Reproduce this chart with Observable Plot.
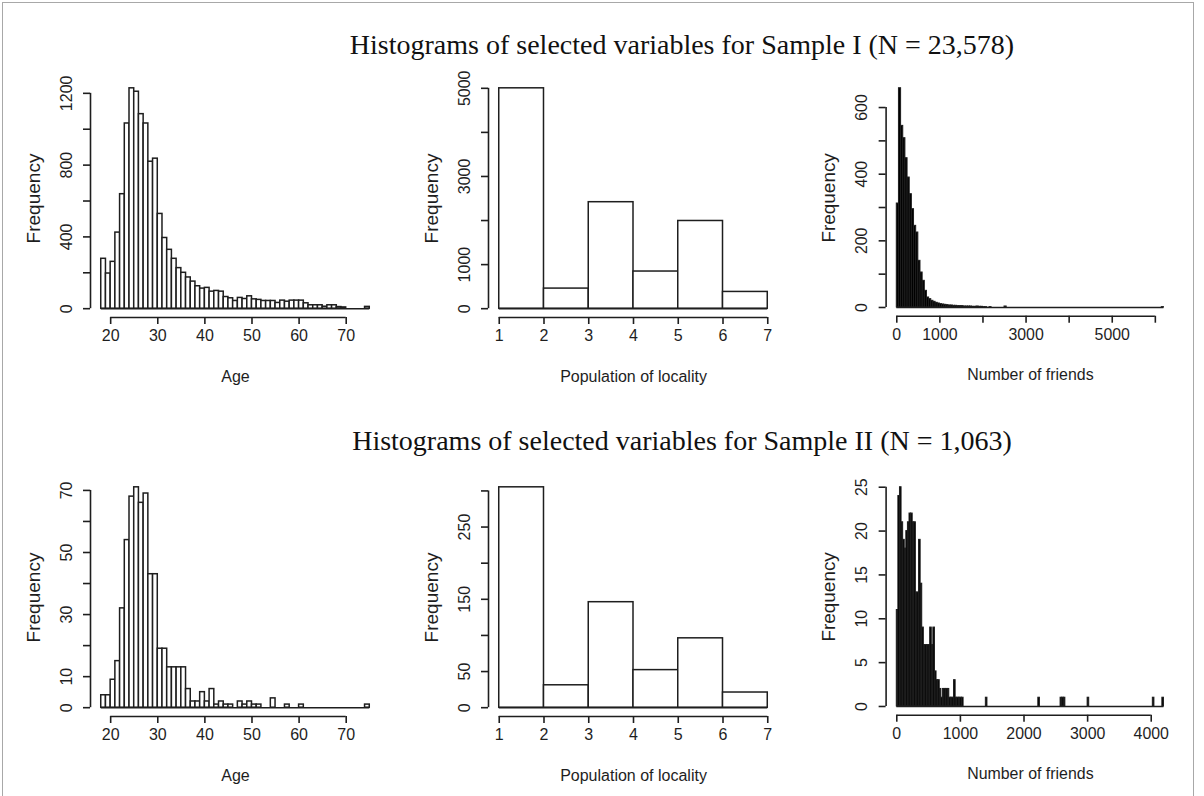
<!DOCTYPE html>
<html>
<head>
<meta charset="utf-8">
<script src="https://cdn.jsdelivr.net/npm/d3@7"></script>
<script src="https://cdn.jsdelivr.net/npm/@observablehq/plot@0.6"></script>
<style>
  body { margin: 0; background: #fff; }
  #page { position: relative; width: 1204px; height: 796px; overflow: hidden; background: #fff;
          font-family: "Liberation Sans", Arial, sans-serif; }
  .border { position: absolute; left: 2px; top: 2px; width: 1190px; height: 830px; border: 1px solid #a8a8a8; }
  .title { position: absolute; left: 282px; width: 800px; text-align: center;
           font-family: "Liberation Serif", "Times New Roman", serif; font-size: 28px; color: #111; line-height: 30px; }
  .panel { position: absolute; }
  .panel svg { overflow: visible; }
</style>
</head>
<body>
<div id="page">
  <div class="border"></div>
  <div class="title" id="t1" style="top:30px"></div>
  <div class="title" id="t2" style="top:426px"></div>
</div>
<script>
// ---------------- data ----------------
const titles = [
  "Histograms of selected variables for Sample I (N = 23,578)",
  "Histograms of selected variables for Sample II (N = 1,063)"
];
const yTitle = "Frequency";
const xTitles = ["Age", "Population of locality", "Number of friends"];

// Age: one-year bins starting at 18 (18–19, 19–20, ..., 74–75)
const ageStart = 18;
const ageBinWidth = 1;
const ageCountsI = [278,196,261,424,638,1032,1228,1209,1084,1032,819,836,528,394,328,278,226,200,174,151,
  125,112,116,95,99,95,65,58,43,60,54,69,52,49,43,43,43,32,45,39,45,45,45,30,19,19,19,11,19,19,9,7,0,0,0,0,10];
const ageCountsII = [4,4,9,15,32,54,68,71,66,69,43,43,19,19,13,13,13,13,6,2,2,5,2,6,1,2,1,1,0,2,1,2,1,1,0,0,3,0,0,1,
  0,0,1,0,0,0,0,0,0,0,0,0,0,0,0,0,1];

// Population of locality: bins 1–2, ..., 6–7
const popStart = 1;
const popBinWidth = 1;
const popCountsI = [5000, 456, 2416, 843, 1990, 380];
const popCountsII = [305, 31, 146, 52, 96, 21];

// Number of friends, Sample I: bins of 50 from 0; dense part, then isolated bins, range ends at 6200
const friendsStartI = 0;
const friendsBinWidthI = 50;
const friendsEndI = 6200;
const friendsDenseI = [312,658,545,508,448,390,340,295,245,225,140,105,80,50,30,25,20,17,14,12,10,9,8,7,6,6,5,5,4,4,
  4,3,3,3,3,2,2,3,2,2,1,1,0,1];
const friendsOutlierBinsI = [2500, 6150];
const friendsOutlierCountsI = [3, 1];

// Number of friends, Sample II: bins of 25 from 0; dense part, then isolated bins, range ends at 4200
const friendsStartII = 0;
const friendsBinWidthII = 25;
const friendsEndII = 4200;
const friendsDenseII = [11,24,25,21,19,18,20,21,22,22,21,21,13,13,19,14,9,7,7,7,7,9,7,9,4,3,3,2,1,2,
  2,2,2,1,1,1,3,1,1,1,1,1];
const friendsOutlierBinsII = [1400, 2225, 2575, 2600, 2625, 3000, 4025, 4175];
const friendsOutlierCountsII = [1, 1, 1, 1, 1, 1, 1, 1];

// axis ticks and which ticks carry labels
const ageTicks = [20, 30, 40, 50, 60, 70];
const popTicks = [1, 2, 3, 4, 5, 6, 7];
const friendsTicksI = [0, 1000, 2000, 3000, 4000, 5000, 6000];
const friendsLabelsI = [0, 1000, 3000, 5000];
const friendsTicksII = [0, 1000, 2000, 3000, 4000];

const yTicksAgeI = [0, 200, 400, 600, 800, 1000, 1200];
const yLabelsAgeI = [0, 400, 800, 1200];
const yTicksPopI = [0, 1000, 2000, 3000, 4000, 5000];
const yLabelsPopI = [0, 1000, 3000, 5000];
const yTicksFriendsI = [0, 100, 200, 300, 400, 500, 600];
const yLabelsFriendsI = [0, 200, 400, 600];

const yTicksAgeII = [0, 10, 20, 30, 40, 50, 60, 70];
const yLabelsAgeII = [0, 10, 30, 50, 70];
const yTicksPopII = [0, 50, 100, 150, 200, 250, 300];
const yLabelsPopII = [0, 50, 150, 250];
const yTicksFriendsII = [0, 5, 10, 15, 20, 25];
const yLabelsFriendsII = [0, 5, 10, 15, 20, 25];

// ---------------- drawing ----------------
document.getElementById("t1").textContent = titles[0];
document.getElementById("t2").textContent = titles[1];

const ink = "#1e1e1e";

function fullCounts(start, width, end, dense, outBins, outCounts) {
  const n = Math.round((end - start) / width);
  const counts = new Array(n).fill(0);
  dense.forEach((c, i) => { counts[i] = c; });
  outBins.forEach((b, j) => { counts[Math.round((b - start) / width)] = outCounts[j]; });
  return counts;
}

function binsOf(start, width, counts) {
  return counts.map((c, i) => ({x1: start + i * width, x2: start + (i + 1) * width, y: c}));
}

function panel({start, width, counts, fill, xTicks, xLabels, yTicks, yLabels, xTitle, left, top}) {
  const rows = binsOf(start, width, counts);
  const xmin = start, xmax = start + counts.length * width;
  const ymax = d3.max(counts);
  const xpad = 0.04 * (xmax - xmin), ypad = 0.04 * ymax;
  const xLo = xmin - xpad, yLo = -ypad;
  const labelSet = new Set(xLabels);
  const chart = Plot.plot({
    width: 400, height: 320,
    marginLeft: 80, marginRight: 30, marginTop: 10, marginBottom: 72,
    style: {fontFamily: "'Liberation Sans', Arial, sans-serif", color: ink, background: "transparent"},
    x: {domain: [xLo, xmax + xpad]},
    y: {domain: [yLo, ymax + ypad]},
    marks: [
      Plot.rect(rows.filter(d => d.y > 0), {x1: "x1", x2: "x2", y1: 0, y2: "y",
        fill, stroke: ink, strokeWidth: fill === "white" ? 1.5 : 1}),
      Plot.ruleY([0], {x1: xmin, x2: xmax, stroke: ink, strokeWidth: 1.5}),
      // axis lines spanning first to last tick (R style)
      Plot.ruleY([yLo], {x1: xTicks[0], x2: xTicks[xTicks.length - 1], stroke: ink, strokeWidth: 1.6}),
      Plot.ruleX([xLo], {y1: yTicks[0], y2: yTicks[yTicks.length - 1], stroke: ink, strokeWidth: 1.6}),
      Plot.axisX({ticks: xTicks, tickSize: 7, tickPadding: 5, fontSize: 16, label: null,
        stroke: ink, strokeWidth: 1.6, fill: ink,
        tickFormat: d => labelSet.has(d) ? String(d) : ""}),
      Plot.axisY({ticks: yTicks, tickSize: 7, label: null, stroke: ink, strokeWidth: 1.6,
        tickFormat: () => ""}),
      Plot.text(yLabels, {y: d => d, text: d => String(d), frameAnchor: "left", dx: -19, rotate: -90,
        textAnchor: "middle", lineAnchor: "bottom", fontSize: 16, fill: ink}),
      Plot.text([yTitle], {frameAnchor: "left", dx: -57, rotate: -90, textAnchor: "middle",
        lineAnchor: "middle", fontSize: 19, fill: ink}),
      Plot.text([xTitle], {frameAnchor: "bottom", dy: 59, textAnchor: "middle",
        lineAnchor: "middle", fontSize: 16, fill: ink})
    ]
  });
  const div = document.createElement("div");
  div.className = "panel";
  div.style.left = left + "px";
  div.style.top = top + "px";
  div.appendChild(chart);
  document.getElementById("page").appendChild(div);
}

const lefts = [10, 408, 806];
const tops = [69, 468];

const friendsCountsI = fullCounts(friendsStartI, friendsBinWidthI, friendsEndI,
  friendsDenseI, friendsOutlierBinsI, friendsOutlierCountsI);
const friendsCountsII = fullCounts(friendsStartII, friendsBinWidthII, friendsEndII,
  friendsDenseII, friendsOutlierBinsII, friendsOutlierCountsII);

panel({start: ageStart, width: ageBinWidth, counts: ageCountsI, fill: "white",
  xTicks: ageTicks, xLabels: ageTicks, yTicks: yTicksAgeI, yLabels: yLabelsAgeI,
  xTitle: xTitles[0], left: lefts[0], top: tops[0]});
panel({start: popStart, width: popBinWidth, counts: popCountsI, fill: "white",
  xTicks: popTicks, xLabels: popTicks, yTicks: yTicksPopI, yLabels: yLabelsPopI,
  xTitle: xTitles[1], left: lefts[1], top: tops[0]});
panel({start: friendsStartI, width: friendsBinWidthI, counts: friendsCountsI, fill: "black",
  xTicks: friendsTicksI, xLabels: friendsLabelsI, yTicks: yTicksFriendsI, yLabels: yLabelsFriendsI,
  xTitle: xTitles[2], left: lefts[2], top: tops[0]});

panel({start: ageStart, width: ageBinWidth, counts: ageCountsII, fill: "white",
  xTicks: ageTicks, xLabels: ageTicks, yTicks: yTicksAgeII, yLabels: yLabelsAgeII,
  xTitle: xTitles[0], left: lefts[0], top: tops[1]});
panel({start: popStart, width: popBinWidth, counts: popCountsII, fill: "white",
  xTicks: popTicks, xLabels: popTicks, yTicks: yTicksPopII, yLabels: yLabelsPopII,
  xTitle: xTitles[1], left: lefts[1], top: tops[1]});
panel({start: friendsStartII, width: friendsBinWidthII, counts: friendsCountsII, fill: "black",
  xTicks: friendsTicksII, xLabels: friendsTicksII, yTicks: yTicksFriendsII, yLabels: yLabelsFriendsII,
  xTitle: xTitles[2], left: lefts[2], top: tops[1]});
</script>
</body>
</html>
